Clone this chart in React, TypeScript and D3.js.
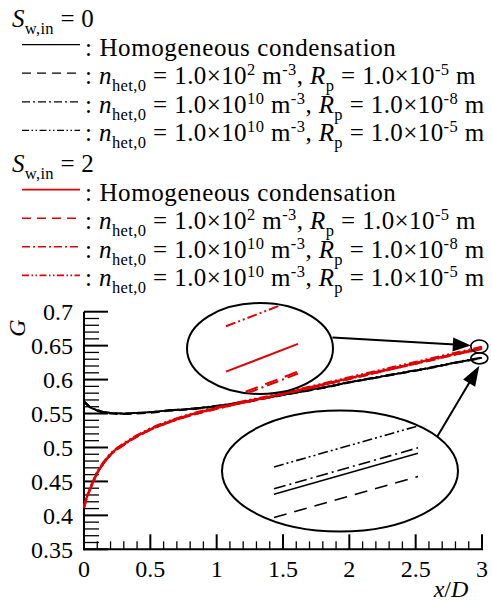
import React from 'react';
import * as d3 from 'd3';

// Axial positions x/D at which G is sampled
const xs = [0, 0.02, 0.05, 0.1, 0.15, 0.2, 0.3, 0.4, 0.5, 0.6, 0.8, 1.0, 1.2, 1.4, 1.6, 1.8, 2.0, 2.2, 2.4, 2.6, 2.8, 2.975, 3.0];

// S_w,in = 0
const gDryHomo = [0.568, 0.564, 0.559, 0.555, 0.552, 0.551, 0.550, 0.551, 0.552, 0.554, 0.557, 0.561, 0.567, 0.574, 0.581, 0.588, 0.596, 0.603, 0.610, 0.617, 0.625, 0.6311, 0.632];
const gDryN2R5 = [0.567, 0.563, 0.558, 0.554, 0.551, 0.550, 0.549, 0.550, 0.551, 0.553, 0.556, 0.560, 0.566, 0.5735, 0.5805, 0.5875, 0.5955, 0.6025, 0.6095, 0.6165, 0.6245, 0.63059, 0.63149];
const gDryN10R8 = [0.568, 0.564, 0.559, 0.555, 0.552, 0.551, 0.550, 0.551, 0.552, 0.554, 0.557, 0.561, 0.567, 0.574, 0.581, 0.588, 0.596, 0.603, 0.610, 0.617, 0.625, 0.63122, 0.63212];
const gDryN10R5 = [0.568, 0.564, 0.559, 0.555, 0.552, 0.551, 0.550, 0.551, 0.552, 0.554, 0.557, 0.5615, 0.5675, 0.5745, 0.5815, 0.5885, 0.5965, 0.6035, 0.6105, 0.6175, 0.6255, 0.6317, 0.6326];

// S_w,in = 2
const gWetHomo = [0.412, 0.426, 0.441, 0.463, 0.478, 0.490, 0.505, 0.517, 0.527, 0.535, 0.548, 0.558, 0.567, 0.575, 0.584, 0.593, 0.602, 0.611, 0.620, 0.629, 0.638, 0.6454, 0.6465];
const gWetN2R5 = [0.411, 0.425, 0.440, 0.462, 0.477, 0.489, 0.504, 0.516, 0.526, 0.534, 0.547, 0.557, 0.566, 0.574, 0.583, 0.592, 0.601, 0.610, 0.619, 0.628, 0.637, 0.6443, 0.6454];
const gWetN10R8 = [0.411, 0.425, 0.440, 0.462, 0.477, 0.489, 0.504, 0.516, 0.526, 0.534, 0.547, 0.557, 0.566, 0.574, 0.583, 0.592, 0.601, 0.610, 0.619, 0.628, 0.637, 0.64422, 0.64532];
const gWetN10R5 = [0.413, 0.427, 0.442, 0.464, 0.479, 0.491, 0.506, 0.518, 0.528, 0.536, 0.549, 0.559, 0.568, 0.576, 0.585, 0.594, 0.6035, 0.6125, 0.6215, 0.6305, 0.6395, 0.6472, 0.6483];

const yTickValues = [0.35, 0.4, 0.45, 0.5, 0.55, 0.6, 0.65, 0.7];
const yTickLabels = ['0.35', '0.4', '0.45', '0.5', '0.55', '0.6', '0.65', '0.7'];
const xTickValues = [0, 0.5, 1, 1.5, 2, 2.5, 3];
const xTickLabels = ['0', '0.5', '1', '1.5', '2', '2.5', '3'];

type Seg = { t: string; k?: 'i' | 'sub' | 'sup' };

const groupTitles: Seg[][] = [
  [{ t: 'S', k: 'i' }, { t: 'w,in', k: 'sub' }, { t: ' = 0' }],
  [{ t: 'S', k: 'i' }, { t: 'w,in', k: 'sub' }, { t: ' = 2' }],
];

const caseLabels: Seg[][] = [
  [{ t: ': Homogeneous condensation' }],
  [{ t: ': ' }, { t: 'n', k: 'i' }, { t: 'het,0', k: 'sub' }, { t: ' = 1.0\u00d710' }, { t: '2', k: 'sup' }, { t: ' m' }, { t: '-3', k: 'sup' }, { t: ', ' }, { t: 'R', k: 'i' }, { t: 'p', k: 'sub' }, { t: ' = 1.0\u00d710' }, { t: '-5', k: 'sup' }, { t: ' m' }],
  [{ t: ': ' }, { t: 'n', k: 'i' }, { t: 'het,0', k: 'sub' }, { t: ' = 1.0\u00d710' }, { t: '10', k: 'sup' }, { t: ' m' }, { t: '-3', k: 'sup' }, { t: ', ' }, { t: 'R', k: 'i' }, { t: 'p', k: 'sub' }, { t: ' = 1.0\u00d710' }, { t: '-8', k: 'sup' }, { t: ' m' }],
  [{ t: ': ' }, { t: 'n', k: 'i' }, { t: 'het,0', k: 'sub' }, { t: ' = 1.0\u00d710' }, { t: '10', k: 'sup' }, { t: ' m' }, { t: '-3', k: 'sup' }, { t: ', ' }, { t: 'R', k: 'i' }, { t: 'p', k: 'sub' }, { t: ' = 1.0\u00d710' }, { t: '-5', k: 'sup' }, { t: ' m' }],
];

const FONT = '"Liberation Serif", "Times New Roman", Times, serif';
const RED = '#e00000';

type DashKind = 'solid' | 'dash' | 'dashdot' | 'dashdotdot';
const dashes: Record<DashKind, { main?: string; inset?: string; legend?: string }> = {
  solid: {},
  dash: { main: '9,5', inset: '13,8', legend: '9,6' },
  dashdot: { main: '9,3,2,3', inset: '12,4,2,4', legend: '8,3,2,3' },
  dashdotdot: { main: '9,3,2,3,2,3', inset: '10,3,2,3,2,3', legend: '7,2.5,1.5,2.5,1.5,2.5' },
};
const caseDash: DashKind[] = ['solid', 'dash', 'dashdot', 'dashdotdot'];

const groups = [
  { color: '#000', series: [gDryHomo, gDryN2R5, gDryN10R8, gDryN10R5] },
  { color: RED, series: [gWetHomo, gWetN2R5, gWetN10R8, gWetN10R5] },
];

const xScale = d3.scaleLinear().domain([0, 3]).range([84, 482]);
const yScale = d3.scaleLinear().domain([0.35, 0.7]).range([549.3, 311.7]);

function RichText({ x, y, segs, size, spacing = 0 }: { x: number; y: number; segs: Seg[]; size: number; spacing?: number }) {
  let cur = 0;
  return (
    <text x={x} y={y} fontSize={size} fontFamily={FONT} letterSpacing={spacing} style={{ whiteSpace: 'pre' }} fill="#000">
      {segs.map((s, i) => {
        const target = s.k === 'sub' ? size * 0.27 : s.k === 'sup' ? -size * 0.36 : 0;
        const dy = target - cur;
        cur = target;
        const small = s.k === 'sub' || s.k === 'sup';
        return (
          <tspan key={i} dy={dy} fontStyle={s.k === 'i' ? 'italic' : undefined} fontSize={small ? size * 0.66 : undefined}>
            {s.t}
          </tspan>
        );
      })}
    </text>
  );
}

function Arrow({ x1, y1, x2, y2, len, hw }: { x1: number; y1: number; x2: number; y2: number; len: number; hw: number }) {
  const dx = x2 - x1, dy = y2 - y1;
  const d = Math.hypot(dx, dy);
  const ux = dx / d, uy = dy / d;
  const bx = x2 - ux * len, by = y2 - uy * len;
  const nx = -uy, ny = ux;
  return (
    <g>
      <line x1={x1} y1={y1} x2={bx + ux * 2} y2={by + uy * 2} stroke="#000" strokeWidth={2} />
      <polygon points={`${x2},${y2} ${bx + nx * hw},${by + ny * hw} ${bx - nx * hw},${by - ny * hw}`} fill="#000" />
    </g>
  );
}

type Ell = { cx: number; cy: number; rx: number; ry: number };

// Magnified view of the last stretch of each curve, clipped to an ellipse
function Inset({ id, ell, color, series, xRange, yDomain, yRange, width }: {
  id: string; ell: Ell; color: string; series: number[][]; xRange: [number, number];
  yDomain: [number, number]; yRange: [number, number]; width: number;
}) {
  const sx = d3.scaleLinear().domain([2.975, 3.0]).range(xRange);
  const sy = d3.scaleLinear().domain(yDomain).range(yRange);
  const idx = xs.map((_, i) => i).filter((i) => xs[i] >= 2.975);
  return (
    <g>
      <clipPath id={id}>
        <ellipse cx={ell.cx} cy={ell.cy} rx={ell.rx - 1} ry={ell.ry - 1} />
      </clipPath>
      <ellipse cx={ell.cx} cy={ell.cy} rx={ell.rx} ry={ell.ry} fill="#fff" stroke="#000" strokeWidth={2} />
      <g clipPath={`url(#${id})`}>
        {series.map((vals, k) => {
          const gen = d3.line<number>().x((i) => sx(xs[i])).y((i) => sy(vals[i]));
          return (
            <path key={k} d={gen(idx) || ''} fill="none" stroke={color} strokeWidth={width}
              strokeDasharray={dashes[caseDash[k]].inset} />
          );
        })}
      </g>
    </g>
  );
}

export default function App() {
  const yMinor = yScale.ticks(35).filter((v) => !yTickValues.some((t) => Math.abs(t - v) < 1e-6));
  const xMinor = xScale.ticks(30).filter((v) => !xTickValues.some((t) => Math.abs(t - v) < 1e-6));
  const x0 = xScale.range()[0];
  const yB = yScale.range()[0];

  const curveGen = (vals: number[]) =>
    d3.line<number>().x((x) => xScale(x)).y((_, i) => yScale(vals[i])).curve(d3.curveMonotoneX)(xs) || '';

  const last = xs.length - 1;
  const upperMark = { cx: xScale(2.98), cy: yScale(gWetHomo[last]) - 1.5, rx: 8.5, ry: 6.5 };
  const lowerMark = { cx: xScale(2.98), cy: yScale(gDryHomo[last]) + 0.5, rx: 8.5, ry: 5.5 };

  const upperEll: Ell = { cx: 260, cy: 348.5, rx: 73, ry: 45.5 };
  const lowerEll: Ell = { cx: 340, cy: 471, rx: 118, ry: 60.5 };

  const legendFont = 25;
  const groupTop = [27, 172];
  const rowGap = 28.6;

  return (
    <svg width={492} height={603} style={{ position: 'absolute', left: 0, top: 0, background: '#fff' }}>
      <rect width={492} height={603} fill="#fff" />

      {/* legend */}
      {groups.map((g, gi) => (
        <g key={gi}>
          <RichText x={12} y={groupTop[gi]} segs={groupTitles[gi]} size={legendFont} spacing={0.3} />
          {caseLabels.map((segs, ri) => {
            const base = groupTop[gi] + rowGap * (ri + 1);
            return (
              <g key={ri}>
                <line x1={22} x2={80} y1={base - 11} y2={base - 11} stroke={g.color}
                  strokeWidth={gi === 0 ? 1.3 : 1.6} strokeDasharray={dashes[caseDash[ri]].legend} />
                <RichText x={85} y={base} segs={segs} size={legendFont} spacing={ri === 0 ? 0.6 : 0.4} />
              </g>
            );
          })}
        </g>
      ))}

      {/* axes */}
      <line x1={x0} x2={x0} y1={yScale(0.7)} y2={yB + 1} stroke="#000" strokeWidth={2} />
      <line x1={x0 - 1} x2={xScale(3) + 1} y1={yB} y2={yB} stroke="#000" strokeWidth={2} />
      {yTickValues.map((v) => (
        <line key={'ym' + v} x1={x0} x2={x0 + 24} y1={yScale(v)} y2={yScale(v)} stroke="#000" strokeWidth={2} />
      ))}
      {yMinor.map((v) => (
        <line key={'yn' + v} x1={x0} x2={x0 + 15} y1={yScale(v)} y2={yScale(v)} stroke="#000" strokeWidth={1.3} />
      ))}
      {xTickValues.map((v) => (
        <line key={'xm' + v} x1={xScale(v)} x2={xScale(v)} y1={yB} y2={yB - 15} stroke="#000" strokeWidth={2} />
      ))}
      {xMinor.map((v) => (
        <line key={'xn' + v} x1={xScale(v)} x2={xScale(v)} y1={yB} y2={yB - 8} stroke="#000" strokeWidth={1.3} />
      ))}
      {yTickValues.map((v, i) => (
        <text key={'yl' + v} x={73} y={yScale(v)} dy="0.35em" textAnchor="end" fontSize={24} fontFamily={FONT}>
          {yTickLabels[i]}
        </text>
      ))}
      {xTickValues.map((v, i) => (
        <text key={'xl' + v} x={xScale(v)} y={577} textAnchor="middle" fontSize={24} fontFamily={FONT}>
          {xTickLabels[i]}
        </text>
      ))}
      <text x={451} y={597} textAnchor="middle" fontSize={24} fontFamily={FONT} style={{ whiteSpace: 'pre' }}>
        <tspan fontStyle="italic">x</tspan>
        <tspan>/</tspan>
        <tspan fontStyle="italic">D</tspan>
      </text>
      <text transform="translate(25,328) rotate(-90)" textAnchor="middle" fontSize={24} fontStyle="italic" fontFamily={FONT}>
        G
      </text>

      {/* curves */}
      {groups.map((g, gi) => (
        <g key={'c' + gi}>
          {g.series.map((vals, k) => (
            <path key={k} d={curveGen(vals)} fill="none" stroke={g.color} strokeWidth={gi === 0 ? 1.8 : 2.2}
              strokeDasharray={dashes[caseDash[k]].main} />
          ))}
        </g>
      ))}

      {/* magnified views near x/D = 3 */}
      <Inset id="clipWet" ell={upperEll} color={RED} series={groups[1].series} xRange={[226, 298]}
        yDomain={[0.64325, 0.64825]} yRange={[425.8, 299.8]} width={2} />
      <Inset id="clipDry" ell={lowerEll} color="#000" series={groups[0].series} xRange={[274, 418]}
        yDomain={[0.63, 0.633]} yRange={[544.4, 407.7]} width={1.6} />

      <ellipse cx={upperMark.cx} cy={upperMark.cy} rx={upperMark.rx} ry={upperMark.ry} fill="none" stroke="#000" strokeWidth={1.6} />
      <ellipse cx={lowerMark.cx} cy={lowerMark.cy} rx={lowerMark.rx} ry={lowerMark.ry} fill="none" stroke="#000" strokeWidth={1.6} />

      <Arrow x1={upperEll.cx + upperEll.rx - 0.5} y1={337.5} x2={upperMark.cx - upperMark.rx} y2={upperMark.cy - 1} len={18} hw={7} />
      <Arrow x1={437} y1={437} x2={lowerMark.cx} y2={lowerMark.cy + lowerMark.ry + 2} len={20} hw={7} />
    </svg>
  );
}
